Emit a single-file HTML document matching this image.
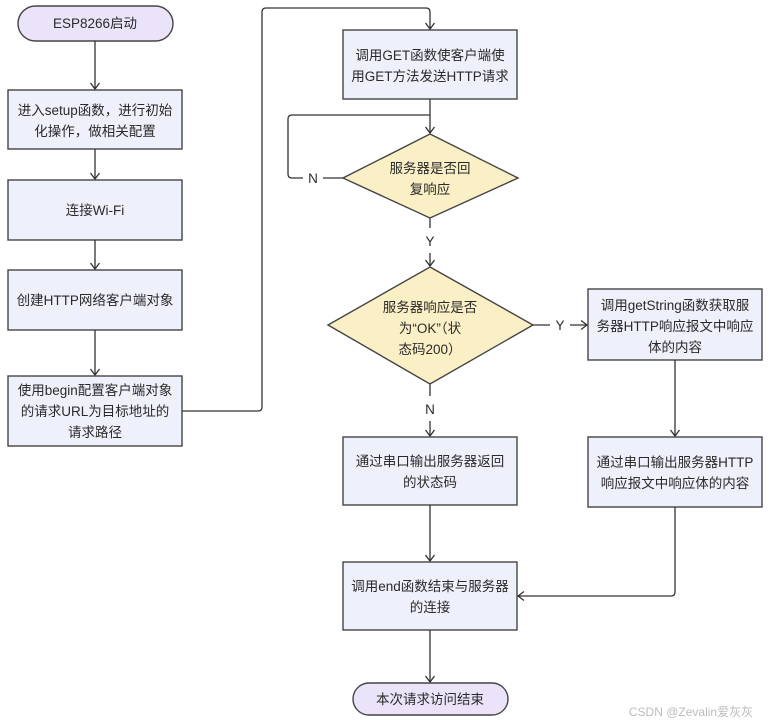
<!DOCTYPE html>
<html><head><meta charset="utf-8"><style>
html,body{margin:0;padding:0;background:#fff;}
svg{display:block;}
text{font-family:"Liberation Sans","Noto Sans CJK SC",sans-serif;font-size:13.5px;fill:#2a2a2a;text-anchor:middle;}
.b{fill:#eef0fb;stroke:#444;stroke-width:1.4;}
.t{fill:#ebe3f9;stroke:#444;stroke-width:1.4;}
.d{fill:#faefc5;stroke:#444;stroke-width:1.4;}
.l{fill:none;stroke:#333;stroke-width:1.3;}
</style></head><body>
<svg width="770" height="723" viewBox="0 0 770 723">
<defs><marker id="a" markerWidth="12" markerHeight="12" refX="6" refY="9" orient="0" markerUnits="userSpaceOnUse">
<path d="M1.5,3 L6,9 L10.5,3" fill="none" stroke="#333" stroke-width="1.3"/></marker>
<marker id="r" markerWidth="12" markerHeight="12" refX="9" refY="6" orient="0" markerUnits="userSpaceOnUse">
<path d="M3,1.5 L9,6 L3,10.5" fill="none" stroke="#333" stroke-width="1.3"/></marker>
<marker id="lf" markerWidth="12" markerHeight="12" refX="3" refY="6" orient="0" markerUnits="userSpaceOnUse">
<path d="M9,1.5 L3,6 L9,10.5" fill="none" stroke="#333" stroke-width="1.3"/></marker></defs>

<rect class="t" x="18" y="6" width="155" height="35" rx="17.5"/>
<text x="95" y="28">ESP8266启动</text>
<line class="l" x1="95" y1="41" x2="95" y2="89" marker-end="url(#a)"/>
<rect class="b" x="8" y="90" width="174" height="59"/>
<text x="95" y="115">进入setup函数，进行初始</text><text x="95" y="136">化操作，做相关配置</text>
<line class="l" x1="95" y1="149" x2="95" y2="179" marker-end="url(#a)"/>
<rect class="b" x="8" y="180" width="174" height="60"/>
<text x="95" y="215">连接Wi-Fi</text>
<line class="l" x1="95" y1="240" x2="95" y2="269" marker-end="url(#a)"/>
<rect class="b" x="8" y="270" width="174" height="60"/>
<text x="95" y="305">创建HTTP网络客户端对象</text>
<line class="l" x1="95" y1="330" x2="95" y2="375" marker-end="url(#a)"/>
<rect class="b" x="8" y="376" width="174" height="70"/>
<text x="95" y="395">使用begin配置客户端对象</text><text x="95" y="416">的请求URL为目标地址的</text><text x="95" y="437">请求路径</text>
<path class="l" d="M182,411 H258 Q262,411 262,407 V12 Q262,8 266,8 H426 Q430,8 430,12 V29" marker-end="url(#a)"/>

<rect class="b" x="343" y="30" width="174" height="69"/>
<text x="430" y="60">调用GET函数使客户端使</text><text x="430" y="81">用GET方法发送HTTP请求</text>
<line class="l" x1="430" y1="99" x2="430" y2="133" marker-end="url(#a)"/>
<polygon class="d" points="430,134 518,178 430,218 343,178"/>
<text x="430" y="173">服务器是否回</text><text x="430" y="194">复响应</text>
<path class="l" d="M343,178 H323 M303,178 H292 Q288,178 288,174 V119 Q288,115 292,115 H430"/>
<text x="313" y="183">N</text>
<line class="l" x1="430" y1="218" x2="430" y2="228"/>
<text x="430" y="246">Y</text>
<line class="l" x1="430" y1="253" x2="430" y2="266" marker-end="url(#a)"/>
<polygon class="d" points="430,267 533,325 430,384 328,325"/>
<text x="430" y="312">服务器响应是否</text><text x="430" y="333">为“OK”（状</text><text x="430" y="354">态码200）</text>
<line class="l" x1="533" y1="325" x2="550" y2="325"/>
<text x="560" y="330">Y</text>
<line class="l" x1="570" y1="325" x2="587" y2="325" marker-end="url(#r)"/>
<line class="l" x1="430" y1="384" x2="430" y2="396"/>
<text x="430" y="414">N</text>
<line class="l" x1="430" y1="421" x2="430" y2="436" marker-end="url(#a)"/>
<rect class="b" x="343" y="437" width="174" height="68"/>
<text x="430" y="466">通过串口输出服务器返回</text><text x="430" y="487">的状态码</text>
<line class="l" x1="430" y1="505" x2="430" y2="561" marker-end="url(#a)"/>
<rect class="b" x="343" y="562" width="174" height="68"/>
<text x="430" y="591">调用end函数结束与服务器</text><text x="430" y="612">的连接</text>
<line class="l" x1="430" y1="630" x2="430" y2="682" marker-end="url(#a)"/>
<rect class="t" x="353" y="683" width="155" height="32" rx="16"/>
<text x="430" y="704">本次请求访问结束</text>

<rect class="b" x="588" y="289" width="174" height="71"/>
<text x="675" y="310">调用getString函数获取服</text><text x="675" y="331">务器HTTP响应报文中响应</text><text x="675" y="352">体的内容</text>
<line class="l" x1="675" y1="360" x2="675" y2="436" marker-end="url(#a)"/>
<rect class="b" x="588" y="437" width="174" height="70"/>
<text x="675" y="467">通过串口输出服务器HTTP</text><text x="675" y="488">响应报文中响应体的内容</text>
<path class="l" d="M675,507 V592 Q675,596 671,596 H518" marker-end="url(#lf)"/>

<text x="691" y="716" style="fill:#bbb;font-size:12px">CSDN @Zevalin爱灰灰</text>
</svg>
</body></html>
